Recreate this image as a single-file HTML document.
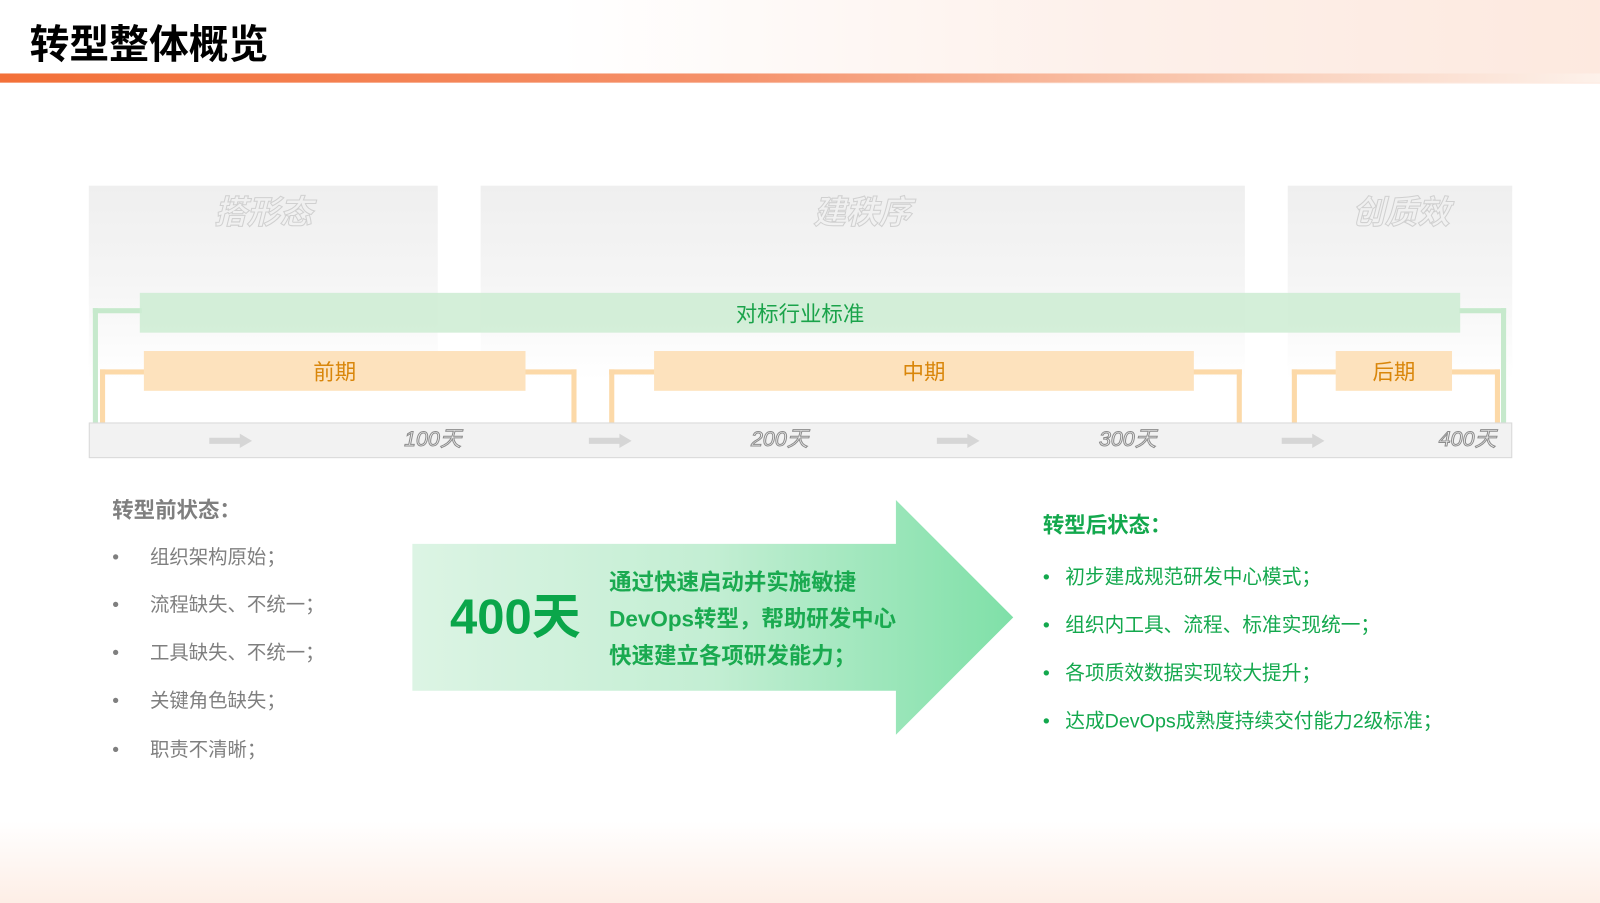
<!DOCTYPE html>
<html><head><meta charset="utf-8"><style>
*{margin:0;padding:0;box-sizing:border-box}
body{width:1600px;height:900px;position:relative;overflow:hidden;background:#fff;font-family:"Liberation Sans","Noto Sans CJK SC",sans-serif}
#w{position:absolute;left:0;top:0;width:1568px;height:882px;transform:scale(1.0204);transform-origin:0 0}
.a{position:absolute}
.t{position:absolute;white-space:nowrap;line-height:1}
.ph{position:absolute;top:182px;height:190px;background:linear-gradient(#efefef,#f5f5f5 50%,#fff)}
.phl{position:absolute;top:192px;font-size:32px;font-style:italic;font-weight:bold;color:transparent;-webkit-text-stroke:1px #d0d0d0;white-space:nowrap;line-height:1}
.ob{position:absolute;top:344px;height:39px;background:#fde2bd;color:#d9860a;font-size:21px;display:flex;align-items:center;justify-content:center}
.ol{position:absolute;border:5px solid #fcd9a8;border-bottom:none}
.gl{position:absolute;background:#c6e9cc}
.ar{position:absolute;top:425px;width:42px;height:14px}
.dl{position:absolute;top:420px;font-size:21px;font-style:italic;color:#f4f4f4;-webkit-text-stroke:1px #8c8c8c;line-height:1}
.li{position:absolute;font-size:19px;color:#7f7f7f;white-space:nowrap;line-height:1}
.ri{position:absolute;font-size:19.3px;color:#13a84d;white-space:nowrap;line-height:1}
</style></head><body><div id="w">
<div class="a" style="left:0;top:0;width:1568px;height:82px;background:linear-gradient(90deg,#fff 0%,#fff 35%,#fdf0ea 70%,#fde9df 100%)"></div>
<div class="a" style="left:0;top:72px;width:1568px;height:9px;background:linear-gradient(90deg,#f37038 0%,#f5916a 45%,#f9c8b0 75%,#fdf1ea 100%)"></div>
<div class="t" style="left:29px;top:25px;font-size:39px;font-weight:bold;color:#000">转型整体概览</div>
<div class="a" style="left:0;top:805px;width:1568px;height:80px;background:linear-gradient(#fff,#fdeee6)"></div>

<div class="ph" style="left:87px;width:342px"></div>
<div class="ph" style="left:471px;width:749px"></div>
<div class="ph" style="left:1262px;width:220px"></div>
<div class="phl" style="left:210px">搭形态</div>
<div class="phl" style="left:797px">建秩序</div>
<div class="phl" style="left:1325px">创质效</div>

<div class="gl" style="left:91px;top:302px;width:5px;height:113px"></div>
<div class="gl" style="left:91px;top:302px;width:48px;height:5px"></div>
<div class="gl" style="left:1471px;top:302px;width:5px;height:113px"></div>
<div class="gl" style="left:1430px;top:302px;width:46px;height:5px"></div>
<div class="a" style="left:137px;top:287px;width:1294px;height:39px;background:rgba(205,236,210,0.85);color:#1aa34a;font-size:21px;display:flex;align-items:center;justify-content:center">对标行业标准</div>

<div class="ol" style="left:98px;top:362px;width:50px;height:53px;border-right:none"></div>
<div class="ol" style="left:510px;top:362px;width:55px;height:53px;border-left:none"></div>
<div class="ol" style="left:597px;top:362px;width:50px;height:53px;border-right:none"></div>
<div class="ol" style="left:1165px;top:362px;width:52px;height:53px;border-left:none"></div>
<div class="ol" style="left:1266px;top:362px;width:48px;height:53px;border-right:none"></div>
<div class="ol" style="left:1420px;top:362px;width:50px;height:53px;border-left:none"></div>
<div class="ob" style="left:141px;width:374px">前期</div>
<div class="ob" style="left:641px;width:529px">中期</div>
<div class="ob" style="left:1309px;width:114px">后期</div>

<div class="a" style="left:87px;top:414px;width:1395px;height:35px;background:#f2f2f2;border:1px solid #d9d9d9"></div>
<svg class="ar" style="left:205px" viewBox="0 0 42 14"><path d="M0 4H30V0L42 7L30 14V10H0Z" fill="#d6d6d6"/></svg>
<svg class="ar" style="left:577px" viewBox="0 0 42 14"><path d="M0 4H30V0L42 7L30 14V10H0Z" fill="#d6d6d6"/></svg>
<svg class="ar" style="left:918px" viewBox="0 0 42 14"><path d="M0 4H30V0L42 7L30 14V10H0Z" fill="#d6d6d6"/></svg>
<svg class="ar" style="left:1256px" viewBox="0 0 42 14"><path d="M0 4H30V0L42 7L30 14V10H0Z" fill="#d6d6d6"/></svg>
<div class="dl" style="left:396px">100天</div>
<div class="dl" style="left:736px">200天</div>
<div class="dl" style="left:1077px">300天</div>
<div class="dl" style="left:1410px">400天</div>

<div class="t" style="left:110px;top:490px;font-size:21px;font-weight:bold;color:#7f7f7f">转型前状态：</div>
<div class="li" style="left:110px;top:537px">•</div><div class="li" style="left:147px;top:537px">组织架构原始；</div>
<div class="li" style="left:110px;top:584px">•</div><div class="li" style="left:147px;top:584px">流程缺失、不统一；</div>
<div class="li" style="left:110px;top:631px">•</div><div class="li" style="left:147px;top:631px">工具缺失、不统一；</div>
<div class="li" style="left:110px;top:678px">•</div><div class="li" style="left:147px;top:678px">关键角色缺失；</div>
<div class="li" style="left:110px;top:726px">•</div><div class="li" style="left:147px;top:726px">职责不清晰；</div>

<svg class="a" style="left:404px;top:490px" width="590" height="231" viewBox="0 0 590 231">
<defs><linearGradient id="g" x1="0" x2="1"><stop offset="0" stop-color="#dcf4e4"/><stop offset="0.5" stop-color="#c3eed3"/><stop offset="1" stop-color="#7fe0a8"/></linearGradient></defs>
<path d="M0 43H474V0L589 115L474 230V187H0Z" fill="url(#g)"/></svg>
<div class="t" style="left:441px;top:582px;font-size:48px;font-weight:bold;color:#0aa64a">400天</div>
<div class="t" style="left:597px;top:553px;font-size:22px;font-weight:bold;color:#1aaa50;line-height:36px;white-space:normal;width:320px">通过快速启动并实施敏捷<br>DevOps转型，帮助研发中心<br>快速建立各项研发能力；</div>

<div class="t" style="left:1022px;top:505px;font-size:21px;font-weight:bold;color:#13a84d">转型后状态：</div>
<div class="ri" style="left:1022px;top:557px">•</div><div class="ri" style="left:1044px;top:557px">初步建成规范研发中心模式；</div>
<div class="ri" style="left:1022px;top:604px">•</div><div class="ri" style="left:1044px;top:604px">组织内工具、流程、标准实现统一；</div>
<div class="ri" style="left:1022px;top:651px">•</div><div class="ri" style="left:1044px;top:651px">各项质效数据实现较大提升；</div>
<div class="ri" style="left:1022px;top:698px">•</div><div class="ri" style="left:1044px;top:698px">达成DevOps成熟度持续交付能力2级标准；</div>
</div></body></html>
